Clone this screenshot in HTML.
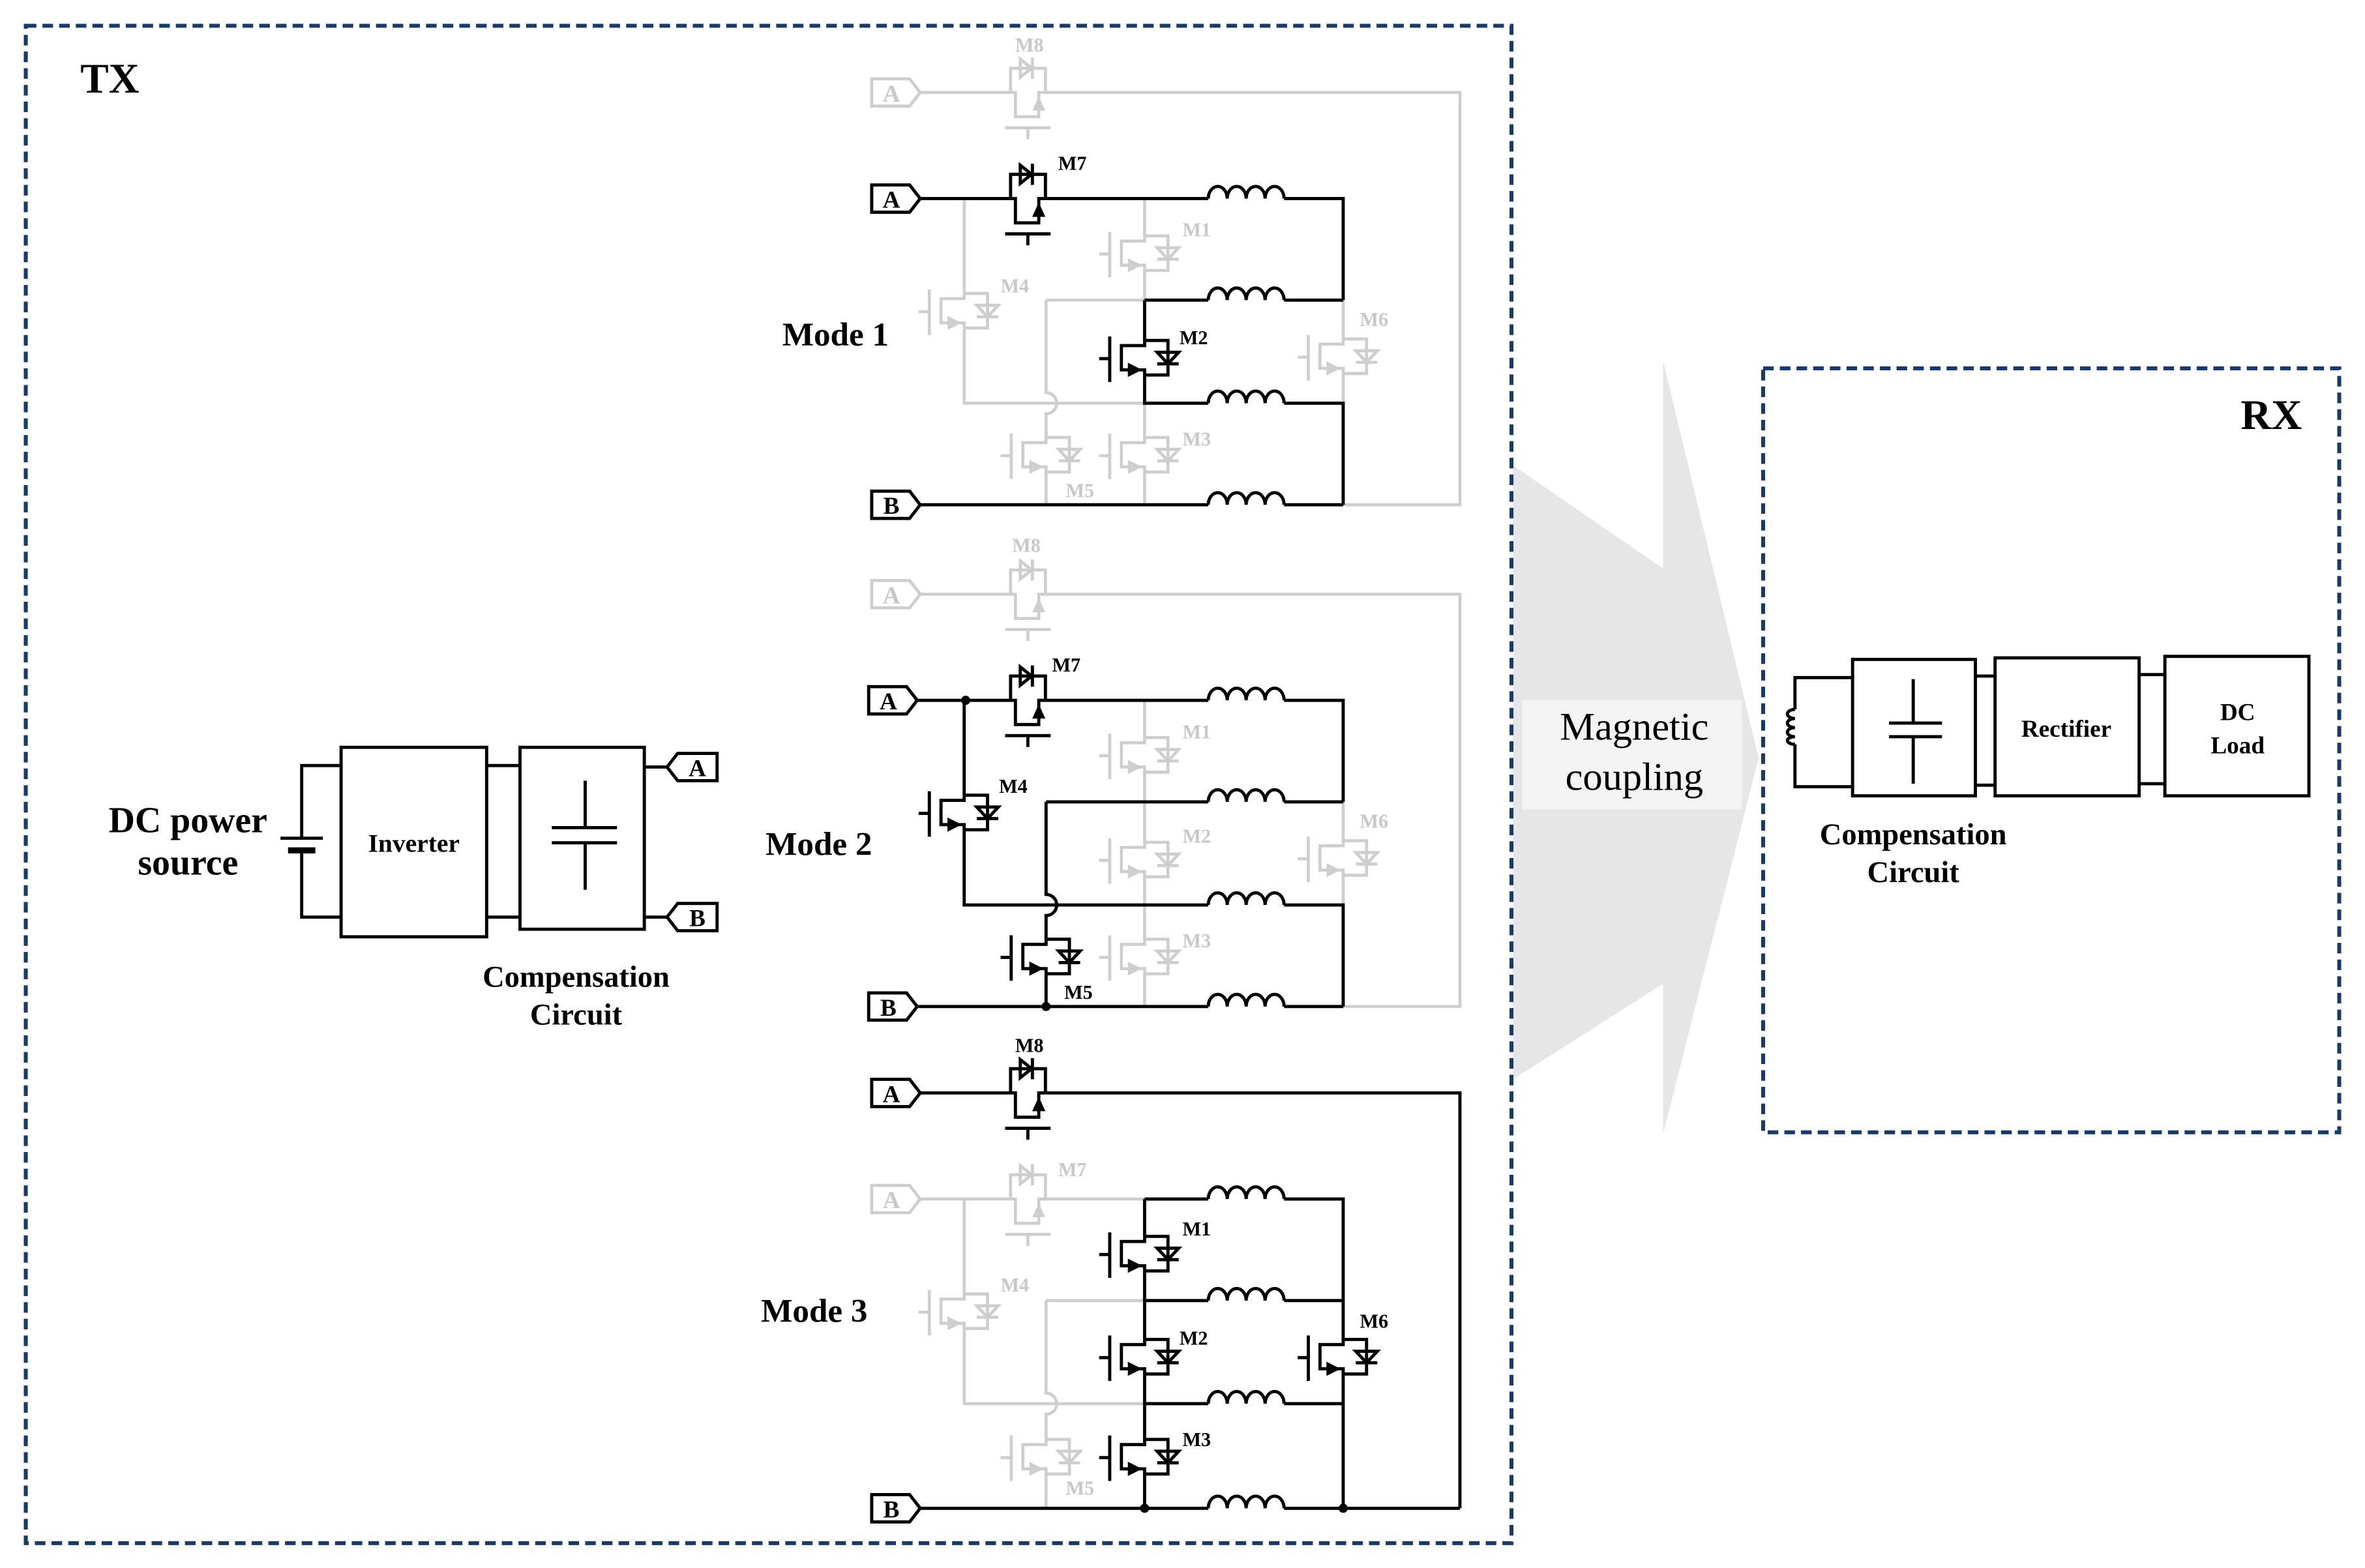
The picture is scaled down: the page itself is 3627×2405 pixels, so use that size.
<!DOCTYPE html>
<html><head><meta charset="utf-8">
<style>
html,body{margin:0;padding:0;background:#fff;}
svg{display:block;}
text{font-family:"Liberation Serif",serif;}
.k{stroke:#000;fill:none;stroke-width:2.1;}
.g{stroke:#cecece;fill:none;stroke-width:2;}
.tk{fill:#000;font-weight:bold;}
.tg{fill:#c8c8c8;font-weight:bold;}
</style></head>
<body>
<svg width="3627" height="2405" viewBox="0 0 1560 1034.4" preserveAspectRatio="none" xmlns="http://www.w3.org/2000/svg">
<defs>
<g id="sw">
<path d="M0,-11.4 V-8 H-15.3 V8 H0 V11.4 M0,11.4 H15.4 V-11.4 H0 M8.3,-3.6 H22.5 L15.4,4 Z M8.3,4 H22.5 M-23,-14 V16 M-30,0.6 H-23 M-10,5 L-4,8 L-10,11 Z"/>
</g>
<g id="ss">
<path d="M-11.4,0 V-16 H11.6 V0 M-11.4,0 H-8.2 V16 H7.2 V0 H11.6 M4.5,11 L7.2,5 L9.9,11 Z M-5,-22 L-5,-10 L2.5,-16 Z M3,-23 V-9 M-15,23.3 H15 M0,23.3 V30.8"/>
</g>
<path id="ind" d="M0,0 a6.25,8 0 0 1 12.5,0 a6.25,8 0 0 1 12.5,0 a6.25,8 0 0 1 12.5,0 a6.25,8 0 0 1 12.5,0"/>
</defs>

<!-- Magnetic coupling arrow -->
<polygon points="998,307 1097,375 1097,238 1160,500 1097,748 1097,649 998,712" fill="#e6e6e6"/>
<rect x="1004" y="462" width="145" height="72" fill="#f3f3f3"/>
<text x="1078" y="488" font-size="26" text-anchor="middle">Magnetic</text>
<text x="1078" y="521" font-size="26" text-anchor="middle">coupling</text>

<!-- boxes -->
<rect x="17" y="17" width="980" height="1001" fill="none" stroke="#163a6b" stroke-width="2.6" stroke-dasharray="7 4"/>
<rect x="1163" y="243" width="380" height="504" fill="none" stroke="#163a6b" stroke-width="2.6" stroke-dasharray="7 4"/>
<text x="53" y="61" font-size="28" class="tk">TX</text>
<text x="1478" y="283" font-size="28" class="tk">RX</text>

<!-- Left block -->
<text x="124" y="549" font-size="24" class="tk" text-anchor="middle">DC power</text>
<text x="124" y="577" font-size="24" class="tk" text-anchor="middle">source</text>
<path class="k" d="M225,505 H199 V553 M199,561 V605 H225 M185,553 H213"/>
<path d="M190,561 H208" stroke="#000" stroke-width="4"/>
<rect x="225" y="493" width="96" height="125" class="k"/>
<text x="273" y="562" font-size="17" class="tk" text-anchor="middle">Inverter</text>
<path class="k" d="M321,505 H343 M321,605 H343"/>
<rect x="343" y="493" width="82" height="120" class="k"/>
<path class="k" d="M386,515 V546 M364,546 H407 M364,556 H407 M386,556 V587"/>
<path class="k" d="M425,506 H440 M425,605 H440"/>
<polygon class="k" points="440,506 447,497 473,497 473,515 447,515"/>
<text x="460" y="512" font-size="16" class="tk" text-anchor="middle">A</text>
<polygon class="k" points="440,605 447,596 473,596 473,614 447,614"/>
<text x="460" y="611" font-size="16" class="tk" text-anchor="middle">B</text>
<text x="380" y="651" font-size="20" class="tk" text-anchor="middle">Compensation</text>
<text x="380" y="676" font-size="20" class="tk" text-anchor="middle">Circuit</text>

<!-- Mode labels -->
<text x="516" y="228" font-size="22" class="tk">Mode 1</text>
<text x="505" y="564" font-size="22" class="tk">Mode 2</text>
<text x="502" y="872" font-size="22" class="tk">Mode 3</text>

<!-- ============ MODE 1 ============ -->
<g class="g">
<polygon points="575,52 600,52 607,61 600,70 575,70"/>
<path d="M607,61 H666.6 M689.6,61 H963 V333 H886"/>
<use href="#ss" x="678" y="61"/>
<path d="M636,131 V193.3 M636,216.7 V266 H755"/>
<use href="#sw" x="636" y="205"/>
<path d="M690,198 V259 a7,7 0 0 1 0,14 V288.6 M690,311.4 V333 M690,198 H755"/>
<use href="#sw" x="690" y="300"/>
<path d="M755,131 V155.6 M755,178.4 V198 M755,266 V288.6 M755,311.4 V333"/>
<use href="#sw" x="755" y="167"/>
<use href="#sw" x="755" y="300"/>
<path d="M886,198 V223.6 M886,246.4 V266"/>
<use href="#sw" x="886" y="235"/>
</g>
<text x="679" y="34" font-size="13" class="tg" text-anchor="middle">M8</text>
<text x="780" y="156" font-size="13" class="tg">M1</text>
<text x="660" y="193" font-size="13" class="tg">M4</text>
<text x="703" y="328" font-size="13" class="tg">M5</text>
<text x="780" y="294" font-size="13" class="tg">M3</text>
<text x="897" y="215" font-size="13" class="tg">M6</text>
<g class="k">
<polygon points="575,122 600,122 607,131 600,140 575,140"/>
<path d="M607,131 H666.6 M689.6,131 H797 M847,131 H886 V198 M755,198 H797 M847,198 H886 M755,198 V224.6 M755,247.4 V266 H797 M847,266 H886 V333 M607,333 H797 M847,333 H886"/>
<use href="#ss" x="678" y="131"/>
<use href="#sw" x="755" y="236"/>
<use href="#ind" x="797" y="131"/>
<use href="#ind" x="797" y="198"/>
<use href="#ind" x="797" y="266"/>
<use href="#ind" x="797" y="333"/>
<polygon points="575,324 600,324 607,333 600,342 575,342"/>
</g>
<text x="588" y="137" font-size="16" class="tk" text-anchor="middle">A</text>
<text x="588" y="339" font-size="16" class="tk" text-anchor="middle">B</text>
<text x="588" y="67" font-size="16" class="tg" text-anchor="middle">A</text>
<text x="698" y="112" font-size="13" class="tk">M7</text>
<text x="778" y="227" font-size="13" class="tk">M2</text>

<!-- ============ MODE 2 ============ -->
<g class="g">
<polygon points="575,383 600,383 607,392 600,401 575,401"/>
<path d="M607,392 H666.6 M689.6,392 H963 V664 H886"/>
<use href="#ss" x="678" y="392"/>
<path d="M755,462 V486.6 M755,509.4 V555.6 M755,578.4 V619.6 M755,642.4 V664"/>
<use href="#sw" x="755" y="498"/>
<use href="#sw" x="755" y="567"/>
<use href="#sw" x="755" y="631"/>
<path d="M886,529 V554.6 M886,577.4 V597"/>
<use href="#sw" x="886" y="566"/>
</g>
<text x="588" y="398" font-size="16" class="tg" text-anchor="middle">A</text>
<text x="677" y="364" font-size="13" class="tg" text-anchor="middle">M8</text>
<text x="780" y="487" font-size="13" class="tg">M1</text>
<text x="780" y="556" font-size="13" class="tg">M2</text>
<text x="780" y="625" font-size="13" class="tg">M3</text>
<text x="897" y="546" font-size="13" class="tg">M6</text>
<g class="k">
<polygon points="573,453 598,453 605,462 598,471 573,471"/>
<path d="M605,462 H666.6 M689.6,462 H797 M847,462 H886 V529 M690,529 H797 M847,529 H886 M690,529 V590 a7,7 0 0 1 0,14 V619.6 M690,642.4 V664 M636,462 V524.6 M636,547.4 V597 H797 M847,597 H886 V664 M605,664 H797 M847,664 H886"/>
<use href="#ss" x="678" y="462"/>
<use href="#sw" x="636" y="536"/>
<use href="#sw" x="690" y="631"/>
<use href="#ind" x="797" y="462"/>
<use href="#ind" x="797" y="529"/>
<use href="#ind" x="797" y="597"/>
<use href="#ind" x="797" y="664"/>
<polygon points="573,655 598,655 605,664 598,673 573,673"/>
</g>
<circle cx="637" cy="462" r="3" fill="#000"/>
<circle cx="690" cy="664" r="3" fill="#000"/>
<text x="586" y="468" font-size="16" class="tk" text-anchor="middle">A</text>
<text x="586" y="670" font-size="16" class="tk" text-anchor="middle">B</text>
<text x="694" y="443" font-size="13" class="tk">M7</text>
<text x="659" y="523" font-size="13" class="tk">M4</text>
<text x="702" y="659" font-size="13" class="tk">M5</text>

<!-- ============ MODE 3 ============ -->
<g class="g">
<polygon points="575,782 600,782 607,791 600,800 575,800"/>
<path d="M607,791 H666.6 M689.6,791 H755"/>
<use href="#ss" x="678" y="791"/>
<path d="M636,791 V853.6 M636,876.4 V926 H755"/>
<use href="#sw" x="636" y="865"/>
<path d="M690,858 H755 M690,858 V919 a7,7 0 0 1 0,14 V949.6 M690,972.4 V995"/>
<use href="#sw" x="690" y="961"/>
</g>
<text x="588" y="797" font-size="16" class="tg" text-anchor="middle">A</text>
<text x="698" y="776" font-size="13" class="tg">M7</text>
<text x="660" y="852" font-size="13" class="tg">M4</text>
<text x="703" y="986" font-size="13" class="tg">M5</text>
<g class="k">
<polygon points="575,712 600,712 607,721 600,730 575,730"/>
<path d="M607,721 H666.6 M689.6,721 H963 V995 M607,995 H797 M847,995 H963 M755,791 H797 M847,791 H886 V883.6 M886,906.4 V995 M755,791 V815.6 M755,838.4 V883.6 M755,906.4 V949.6 M755,972.4 V995 M755,858 H797 M847,858 H886 M755,926 H797 M847,926 H886"/>
<use href="#ss" x="678" y="721"/>
<use href="#sw" x="755" y="827"/>
<use href="#sw" x="755" y="895"/>
<use href="#sw" x="755" y="961"/>
<use href="#sw" x="886" y="895"/>
<use href="#ind" x="797" y="791"/>
<use href="#ind" x="797" y="858"/>
<use href="#ind" x="797" y="926"/>
<use href="#ind" x="797" y="995"/>
<polygon points="575,986 600,986 607,995 600,1004 575,1004"/>
</g>
<circle cx="755" cy="995" r="3" fill="#000"/>
<circle cx="886" cy="995" r="3" fill="#000"/>
<text x="588" y="727" font-size="16" class="tk" text-anchor="middle">A</text>
<text x="588" y="1001" font-size="16" class="tk" text-anchor="middle">B</text>
<text x="679" y="694" font-size="13" class="tk" text-anchor="middle">M8</text>
<text x="780" y="815" font-size="13" class="tk">M1</text>
<text x="778" y="887" font-size="13" class="tk">M2</text>
<text x="780" y="954" font-size="13" class="tk">M3</text>
<text x="897" y="876" font-size="13" class="tk">M6</text>

<!-- ============ RX ============ -->
<g class="k">
<path d="M1222,447 H1184 V468 M1184,491 V519 H1222"/>
<path d="M1184,468 a5,3 0 1 0 0,6 a5,3 0 1 0 0,6 a5,3 0 1 0 0,6 a5,2.5 0 1 0 0,5"/>
<rect x="1222" y="435" width="81" height="90"/>
<path d="M1262,448 V477 M1246,477 H1281 M1246,486 H1281 M1262,486 V517"/>
<path d="M1303,446 H1316 M1303,518 H1316"/>
<rect x="1316" y="434" width="95" height="91"/>
<path d="M1411,445 H1428 M1411,517 H1428"/>
<rect x="1428" y="433" width="95" height="92"/>
</g>
<text x="1363" y="486" font-size="16" class="tk" text-anchor="middle">Rectifier</text>
<text x="1476" y="475" font-size="16" class="tk" text-anchor="middle">DC</text>
<text x="1476" y="497" font-size="16" class="tk" text-anchor="middle">Load</text>
<text x="1262" y="557" font-size="20" class="tk" text-anchor="middle">Compensation</text>
<text x="1262" y="582" font-size="20" class="tk" text-anchor="middle">Circuit</text>
</svg>
</body></html>
